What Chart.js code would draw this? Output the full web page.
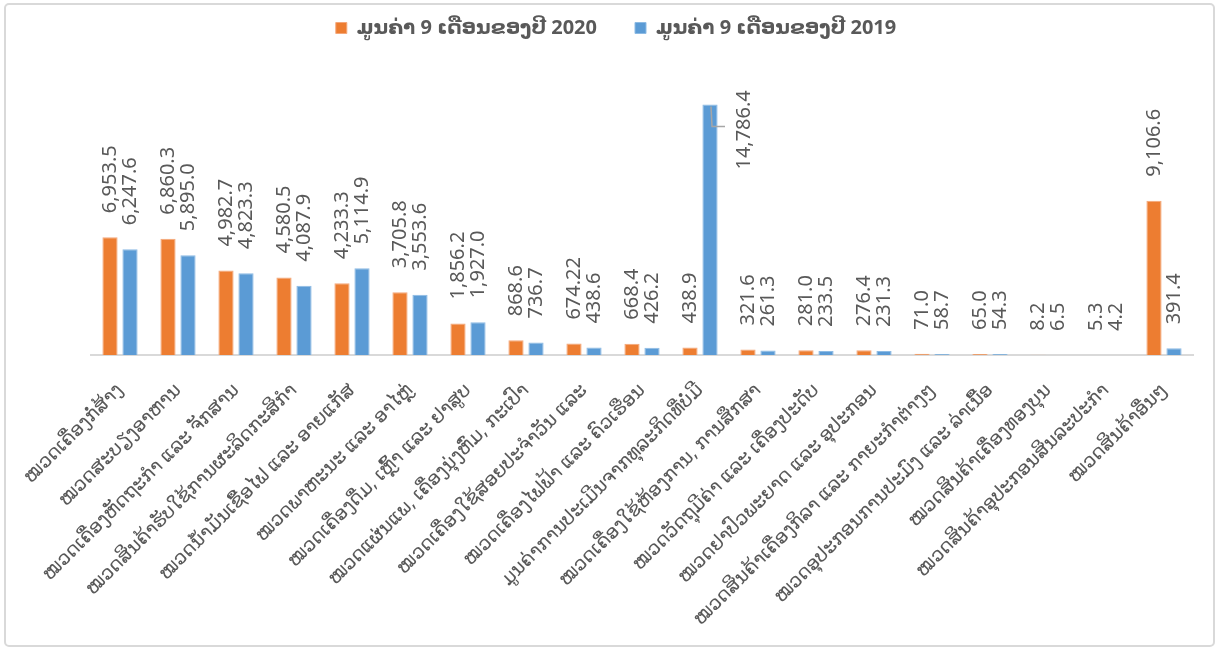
<!DOCTYPE html>
<html>
<head>
<meta charset="utf-8">
<script src="https://cdn.jsdelivr.net/npm/chart.js@4/dist/chart.umd.min.js"></script>
<style>
  html, body { margin: 0; padding: 0; background: #fff; }
  #wrap { position: relative; width: 1219px; height: 650px; }
</style>
</head>
<body>
<div id="wrap"><canvas id="myChart" width="1219" height="650"></canvas></div>
<script>
const categories = [
    'ໝວດເຄື່ອງກໍ່ສ້າງ',
    'ໝວດສະບຽງອາຫານ',
    'ໝວດເຄື່ອງຫັດຖະກຳ ແລະ ຈັກສານ',
    'ໝວດສິນຄ້າຮັບໃຊ້ການຜະລິດກະສິກຳ',
    'ໝວດນ້ຳມັນເຊື້ອໄຟ ແລະ ອາຍແກັສ',
    'ໝວດພາຫະນະ ແລະ ອາໄຫຼ່',
    'ໝວດເຄື່ອງດື່ມ, ເຫຼົ້າ ແລະ ຢາສູບ',
    'ໝວດແຜ່ນແພ, ເຄື່ອງນຸ່ງຫົ່ມ, ກະເປົາ',
    'ໝວດເຄື່ອງໃຊ້ສອຍປະຈຳວັນ ແລະ',
    'ໝວດເຄື່ອງໄຟຟ້າ ແລະ ຄົວເຮືອນ',
    'ມູນຄ່າການປະເມີນຈາກທຸລະກິດທີ່ບໍ່ມີ',
    'ໝວດເຄື່ອງໃຊ້ຫ້ອງການ, ການສຶກສາ',
    'ໝວດວັດຖຸມີຄ່າ ແລະ ເຄື່ອງປະດັບ',
    'ໝວດຢາປົວພະຍາດ ແລະ ອຸປະກອນ',
    'ໝວດສິນຄ້າເຄື່ອງກິລາ ແລະ ກາຍະກຳຕ່າງໆ',
    'ໝວດອຸປະກອນການປະມົງ ແລະ ລ່າເນື້ອ',
    'ໝວດສິນຄ້າເຄື່ອງທອງບຸນ',
    'ໝວດສິນຄ້າອຸປະກອນສິນລະປະກຳ',
    'ໝວດສິນຄ້າອື່ນໆ'
];

const values2020 = [6953.5, 6860.3, 4982.7, 4580.5, 4233.3, 3705.8, 1856.2, 868.6, 674.22, 668.4,
    438.9, 321.6, 281.0, 276.4, 71.0, 65.0, 8.2, 5.3, 9106.6];
const values2019 = [6247.6, 5895.0, 4823.3, 4087.9, 5114.9, 3553.6, 1927.0, 736.7, 438.6, 426.2,
    14786.4, 261.3, 233.5, 231.3, 58.7, 54.3, 6.5, 4.2, 391.4];

const seriesNames = ['ມູນຄ່າ 9 ເດືອນຂອງປີ 2020', 'ມູນຄ່າ 9 ເດືອນຂອງປີ 2019'];

const FONT = "'Noto Sans', 'DejaVu Sans', sans-serif";
const GREY = '#595959';

function fmt(v) {
    return v.toLocaleString('en-US', { minimumFractionDigits: 1, maximumFractionDigits: 2 });
}

// rotated value labels above bars, moved beside the bar when there is no room
const valueLabels = {
    id: 'valueLabels',
    afterDatasetsDraw(chart) {
        const ctx = chart.ctx;
        ctx.save();
        ctx.font = '20px ' + FONT;
        ctx.fillStyle = GREY;
        ctx.textBaseline = 'middle';
        ctx.textAlign = 'left';
        chart.data.datasets.forEach((ds, di) => {
            chart.getDatasetMeta(di).data.forEach((bar, i) => {
                const txt = fmt(ds.data[i]);
                const w = ctx.measureText(txt).width;
                let x = bar.x, y = bar.y - 24;
                if (y - w < 10) {
                    // leader line and label to the right
                    x = bar.x + 34;
                    y = bar.y + 65;
                    ctx.save();
                    ctx.strokeStyle = '#a6a6a6';
                    ctx.lineWidth = 1.5;
                    ctx.beginPath();
                    ctx.moveTo(bar.x + 1, bar.y + 2);
                    ctx.lineTo(bar.x + 2, bar.y + 22);
                    ctx.lineTo(bar.x + 15, bar.y + 22);
                    ctx.stroke();
                    ctx.restore();
                }
                ctx.save();
                ctx.translate(x, y);
                ctx.rotate(-Math.PI / 2);
                ctx.fillText(txt, 0, 0);
                ctx.restore();
            });
        });
        ctx.restore();
    }
};

// fixed legend height, legend moved a bit left like the original
const legendSpace = {
    id: 'legendSpace',
    beforeInit(chart) {
        const fit = chart.legend.fit;
        chart.legend.fit = function () {
            fit.bind(chart.legend)();
            this.height = 104;
        };
    },
    afterLayout(chart) {
        chart.legend.left -= 26;
        chart.legend.right -= 26;
    }
};

const frame = {
    id: 'frame',
    beforeDraw(chart) {
        const ctx = chart.ctx;
        ctx.save();
        ctx.fillStyle = '#fff';
        ctx.fillRect(0, 0, chart.width, chart.height);
        ctx.strokeStyle = '#d9d9d9';
        ctx.lineWidth = 2;
        ctx.beginPath();
        ctx.roundRect(5, 4, chart.width - 10, chart.height - 8, 4);
        ctx.stroke();
        ctx.restore();
    }
};

var myChart = new Chart(document.getElementById('myChart').getContext('2d'), {
    type: 'bar',
    data: {
        labels: categories,
        datasets: [{
            label: seriesNames[0],
            data: values2020,
            backgroundColor: '#ED7D31',
            borderColor: '#F4A77A',
            borderWidth: 1
        }, {
            label: seriesNames[1],
            data: values2019,
            backgroundColor: '#5B9BD5',
            borderColor: '#8DBBE4',
            borderWidth: 1
        }]
    },
    options: {
        responsive: false,
        animation: false,
        layout: { padding: { left: 91, right: 26, top: -20, bottom: 0 } },
        datasets: {
            bar: { categoryPercentage: 0.69, barPercentage: 0.76 }
        },
        plugins: {
            legend: {
                position: 'top',
                labels: {
                    boxWidth: 11,
                    boxHeight: 11,
                    padding: 38,
                    color: GREY,
                    font: { family: FONT, size: 20, weight: 'bold' }
                }
            },
            tooltip: { enabled: false }
        },
        scales: {
            x: {
                grid: { display: false, drawTicks: false },
                border: { display: true, color: '#d9d9d9', width: 2 },
                ticks: {
                    color: GREY,
                    font: { family: FONT, size: 19 },
                    minRotation: 45,
                    maxRotation: 45,
                    padding: 24,
                    autoSkip: false
                },
                afterFit(scale) { scale.height = 295; }
            },
            y: {
                display: false,
                min: 0,
                max: 16000
            }
        }
    },
    plugins: [frame, legendSpace, valueLabels]
});
</script>
</body>
</html>
